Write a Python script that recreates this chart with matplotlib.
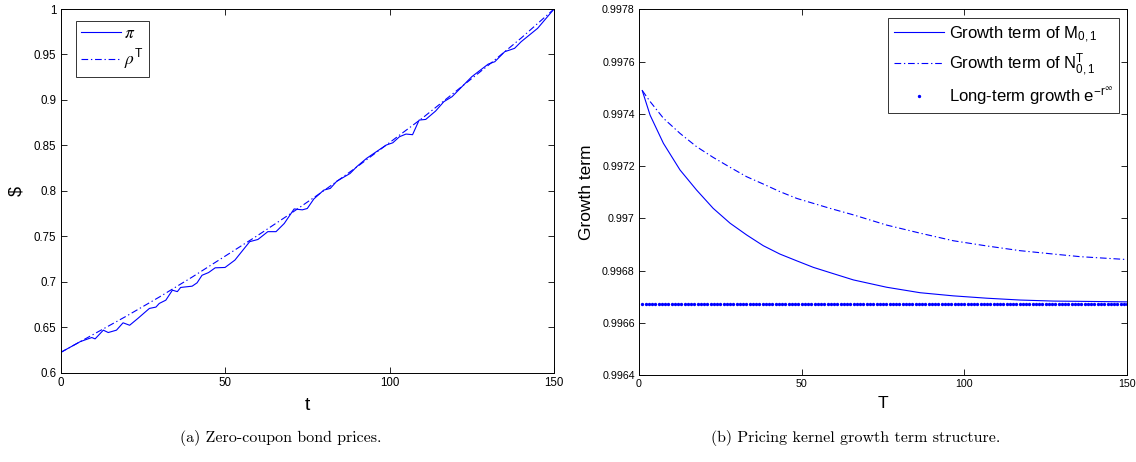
import matplotlib
matplotlib.use("Agg")
import matplotlib.pyplot as plt
import numpy as np

plt.rcParams["font.family"] = ["Liberation Sans", "DejaVu Sans"]
plt.rcParams["mathtext.fontset"] = "stix"

# ── (a) zero-coupon bond prices ──
t_rho = [0, 10, 20, 30, 40, 50, 60, 70, 80, 90, 100, 110, 120, 130, 140, 150]
rho_T = [0.622, 0.642, 0.662, 0.683, 0.705, 0.728, 0.751, 0.775, 0.800, 0.826,
         0.853, 0.880, 0.909, 0.938, 0.968, 1.0]

t_pi = [0, 5, 6, 9.5, 10.5, 13, 14.5, 17, 19, 21, 23.5, 27, 29, 30, 32, 34, 35.5,
        36.5, 40, 41.5, 43, 45, 47, 50, 53, 57.5, 60, 63, 65.5, 68, 71, 73.5, 75,
        77, 80, 82, 84, 88, 90, 93, 96, 99, 101, 103, 105, 107, 109, 111, 114,
        116.5, 119, 121, 125, 130, 132, 135, 138, 140, 145, 150]
pi_vals = [0.622, 0.632, 0.634, 0.6385, 0.637, 0.6466, 0.644, 0.6466, 0.6547, 0.652,
           0.6595, 0.6705, 0.672, 0.676, 0.6796, 0.6906, 0.689, 0.6936, 0.695, 0.6987,
           0.707, 0.710, 0.7152, 0.7156, 0.7237, 0.744, 0.7464, 0.755, 0.755, 0.764,
           0.780, 0.779, 0.7805, 0.791, 0.8007, 0.8026, 0.8106, 0.819, 0.8264, 0.8356,
           0.843, 0.8503, 0.8528, 0.8594, 0.8624, 0.8617, 0.8778, 0.8785, 0.8877,
           0.898, 0.9035, 0.9108, 0.9255, 0.9394, 0.942, 0.953, 0.9567, 0.964,
           0.9787, 1.0]

# ── (b) pricing kernel growth term ──
T_grid = [1, 3.4, 7.5, 12.6, 17.7, 22.8, 28, 33.1, 38.2, 43.3, 48.5, 53.6, 58.7,
          65.9, 76.1, 86.4, 96.6, 106.9, 117.1, 127.4, 135.6, 150]
growth_M = [0.997489, 0.997395, 0.997287, 0.997185, 0.997108, 0.997038, 0.996981,
            0.996936, 0.996895, 0.996863, 0.996837, 0.996812, 0.996792, 0.996764,
            0.996736, 0.996715, 0.996703, 0.996694, 0.996687, 0.996683, 0.996682,
            0.996680]
growth_N = [0.997489, 0.997447, 0.997383, 0.997325, 0.997274, 0.997233, 0.997195,
            0.997159, 0.997131, 0.997102, 0.997076, 0.997057, 0.997038, 0.997013,
            0.996974, 0.996943, 0.996914, 0.996894, 0.996876, 0.996863, 0.996853,
            0.996842]
T_long = list(range(1, 151))
long_term = [0.996672] * len(T_long)

BLUE = (0, 0, 1)
DASHDOT = (0, (6, 2.5, 1.2, 2.5))

fig = plt.figure(figsize=(11.36, 4.62), dpi=100)
ax1 = fig.add_axes([0.0533, 0.1937, 0.4344, 0.7868])
ax2 = fig.add_axes([0.5625, 0.1883, 0.4296, 0.7916])


def style_axes(ax, size):
    ax.tick_params(direction="in", top=True, right=True, length=4, width=0.6,
                   labelsize=size, pad=3)
    for sp in ax.spines.values():
        sp.set_linewidth(0.7)


ax1.plot(t_pi, pi_vals, color=BLUE, lw=0.8, label=r"$\pi$")
ax1.plot(t_rho, rho_T, color=BLUE, lw=0.8, ls=DASHDOT,
         label=r"$\rho^{\mathregular{T}}$")
ax1.set_xlim(0, 150)
ax1.set_ylim(0.6, 1.0)
ax1.set_xticks([0, 50, 100, 150])
ax1.set_yticks(np.arange(0.6, 1.0001, 0.05))
ax1.set_yticklabels(["0.6", "0.65", "0.7", "0.75", "0.8", "0.85", "0.9", "0.95", "1"])
ax1.set_xlabel("t", fontsize=14, labelpad=6)
ax1.set_ylabel("$", fontsize=13, labelpad=6)
style_axes(ax1, 8.3)
leg1 = ax1.legend(loc="upper left", bbox_to_anchor=(0.031, 0.967), fontsize=12.5,
                  frameon=True, fancybox=False, handlelength=2.3, borderaxespad=0,
                  handletextpad=0.2, labelspacing=0.35, borderpad=0.3)
leg1.get_frame().set_edgecolor("black")
leg1.get_frame().set_linewidth(0.7)

ax2.plot(T_grid, growth_M, color=BLUE, lw=0.8,
         label=r"Growth term of M$_{\mathregular{0,1}}$")
ax2.plot(T_grid, growth_N, color=BLUE, lw=0.8, ls=DASHDOT,
         label=r"Growth term of N$^{\mathregular{T}}_{\mathregular{0,1}}$")
ax2.plot(T_long, long_term, color=BLUE, ls="none", marker=".", markersize=2.8,
         label=r"Long-term growth e$^{\mathregular{-r}^{\infty}}$")
ax2.set_xlim(0, 150)
ax2.set_ylim(0.9964, 0.9978)
ax2.set_xticks([0, 50, 100, 150])
yt = [0.9964, 0.9966, 0.9968, 0.997, 0.9972, 0.9974, 0.9976, 0.9978]
ax2.set_yticks(yt)
ax2.set_yticklabels(["0.9964", "0.9966", "0.9968", "0.997", "0.9972", "0.9974",
                     "0.9976", "0.9978"])
ax2.set_xlabel("T", fontsize=12.5, labelpad=5)
ax2.set_ylabel("Growth term", fontsize=12.5, labelpad=6)
style_axes(ax2, 7.7)
leg2 = ax2.legend(loc="upper right", bbox_to_anchor=(0.983, 0.976), fontsize=12,
                  frameon=True, fancybox=False, handlelength=3.0, borderaxespad=0,
                  handletextpad=0.3, labelspacing=0.45, borderpad=0.35)
leg2.get_frame().set_edgecolor("black")
leg2.get_frame().set_linewidth(0.7)

fig.text(0.247, 0.052, "(a) Zero-coupon bond prices.", ha="center", va="center",
         fontsize=11.5, family="cmr10")
fig.text(0.753, 0.052, "(b) Pricing kernel growth term structure.", ha="center",
         va="center", fontsize=11.5, family="cmr10")

fig.savefig("out.png", dpi=100)
